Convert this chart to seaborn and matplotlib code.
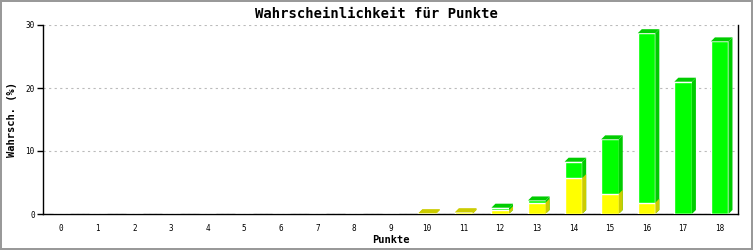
import matplotlib
matplotlib.use("Agg")
import matplotlib.pyplot as plt
import seaborn as sns
import pandas as pd
import numpy as np
from matplotlib.patches import Polygon

punkte = [str(i) for i in range(19)]
gelb = [0, 0, 0, 0, 0, 0, 0, 0, 0, 0, 0.1, 0.25, 0.6, 1.8, 5.7, 3.2, 1.8, 0, 0]
gruen = [0, 0, 0, 0, 0, 0, 0, 0, 0, 0, 0, 0, 0.4, 0.35, 2.6, 8.65, 26.9, 21.0, 27.4]
y_ticks = [0, 10, 20, 30]

gesamt = [a + b for a, b in zip(gelb, gruen)]
df = pd.DataFrame({"Punkte": punkte, "gelb": gelb, "gesamt": gesamt})

sns.set_style("white")
plt.rcParams['font.family'] = ['DejaVu Sans Mono']
plt.rcParams['text.color'] = 'black'
plt.rcParams['axes.labelcolor'] = 'black'
plt.rcParams['xtick.color'] = 'black'
plt.rcParams['ytick.color'] = 'black'

fig = plt.figure(figsize=(7.53, 2.5), dpi=100)
fig.patch.set_facecolor("white")
fig.patch.set_edgecolor("#999999")
fig.patch.set_linewidth(1.5)
ax = fig.add_axes([43/753, 1-214/250, (738-43)/753, (214-25)/250])

GREEN, GREEN_D = "#00ff00", "#00cc00"
YEL, YEL_D = "#ffff00", "#cccc00"

sns.barplot(data=df, x="Punkte", y="gesamt", color=GREEN, saturation=1, width=0.48, ax=ax, zorder=3)
n_green = len(ax.patches)
sns.barplot(data=df, x="Punkte", y="gelb", color=YEL, saturation=1, width=0.48, ax=ax, zorder=3)

ax.set_ylim(0, 30)
ax.set_xlim(-0.5, 18.5)
dx = 4 / 36.6
dy = 4 / 6.3

patches = list(ax.patches)
for i, p in enumerate(patches):
    is_green = i < n_green
    x0 = p.get_x(); w = p.get_width(); x1 = x0 + w
    h = p.get_height()
    y0 = p.get_y(); y1 = y0 + h
    idx = i if is_green else i - n_green
    if gesamt[idx] <= 0:
        continue
    if is_green and gruen[idx] <= 0:
        p.set_facecolor(YEL)
        side, top = YEL_D, YEL_D
    else:
        side = GREEN_D if is_green else YEL_D
        top = side
    if not is_green and h <= 0:
        continue
    z = 3.1 if is_green else 3.3
    ax.add_patch(Polygon([(x1, y0), (x1 + dx, y0 + dy), (x1 + dx, y1 + dy), (x1, y1)],
                         closed=True, facecolor=side, edgecolor="none", zorder=z))
    if is_green or gruen[idx] <= 0:
        ax.add_patch(Polygon([(x0, y1), (x0 + dx, y1 + dy), (x1 + dx, y1 + dy), (x1, y1)],
                             closed=True, facecolor=top, edgecolor="none", zorder=z))
    if not is_green:
        p.set_zorder(3.2)

ax.set_yticks(y_ticks)
ax.set_yticklabels([str(t) for t in y_ticks])
ax.yaxis.grid(True, linestyle=(0, (2, 3)), color="#bbbbbb", linewidth=0.8, zorder=0)
ax.set_axisbelow(True)
ax.tick_params(axis="y", which="both", left=True, length=4, width=1, color="black",
               labelcolor="black", labelsize=5.5, pad=2)
ax.tick_params(axis="x", bottom=False, labelsize=5.5, pad=4, labelcolor="black")
for s in ["left", "bottom", "right"]:
    ax.spines[s].set_visible(True)
    ax.spines[s].set_color("black")
    ax.spines[s].set_linewidth(1)
ax.spines["top"].set_visible(False)

ax.set_xlabel("")
ax.set_ylabel("Wahrsch. (%)", fontsize=7.5, fontweight="bold", labelpad=6, color="black")
fig.text((43 + 738) / 2 / 753, 1 - 240/250, "Punkte", ha="center", va="center",
         fontsize=7.5, fontweight="bold", color="black")
fig.text(0.5, 1 - 14/250, "Wahrscheinlichkeit für Punkte", ha="center", va="center",
         fontsize=10, fontweight="bold", color="black")

fig.savefig("out.png", dpi=100, facecolor=fig.get_facecolor(), edgecolor=fig.get_edgecolor())
